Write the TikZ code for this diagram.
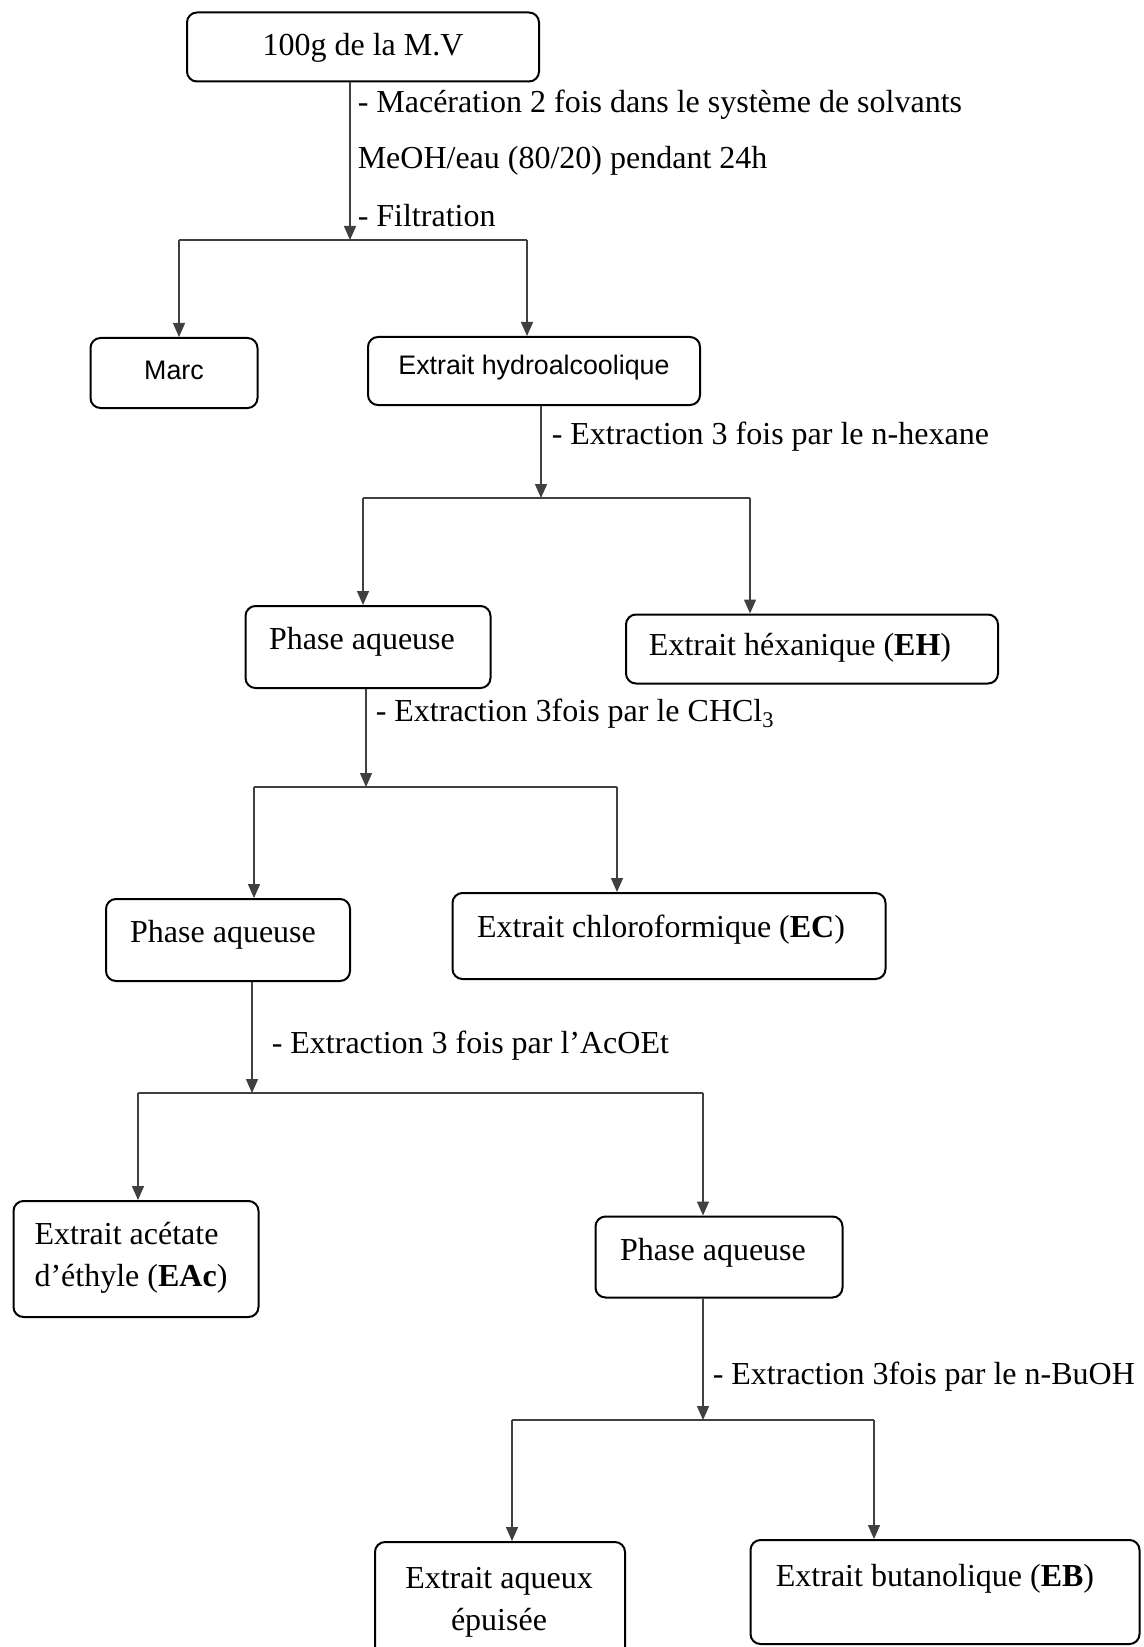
\documentclass[tikz,border=0pt]{standalone}
\usepackage{fontspec}
\setmainfont{Liberation Serif}
\newfontfamily\arialfont{Liberation Sans}
\usetikzlibrary{arrows.meta}

\tikzset{every picture/.style={line width=0.75pt}}
\tikzset{
  box/.style={draw, rounded corners=5pt, line width=1pt, inner sep=0pt},
  link/.style={draw=black!75, line width=0.7pt},
  arr/.style={link, -{Triangle[length=7pt,width=6pt]}},
  txt/.style={inner sep=0pt, font=\fontsize{16}{21}\selectfont},
  sanstxt/.style={inner sep=0pt, font=\arialfont\fontsize{13.4}{16}\selectfont},
  stepnote/.style={txt, anchor=west}
}

\begin{document}
\begin{tikzpicture}[x=0.5pt,y=0.5pt,yscale=-1,xscale=1]
\useasboundingbox (0,0) rectangle (1144,1647);

% boxes
\node[box, minimum width=176pt, minimum height=34.5pt] (mv) at (363,47) {};
\node[box, minimum width=83.5pt, minimum height=35pt] (marc) at (174,373) {};
\node[box, minimum width=166pt, minimum height=34pt] (hydro) at (534,371) {};
\node[box, minimum width=122.5pt, minimum height=41pt] (pa1) at (368,647) {};
\node[box, minimum width=186pt, minimum height=34.5pt] (eh) at (812,649) {};
\node[box, minimum width=122pt, minimum height=41pt] (pa2) at (228,940) {};
\node[box, minimum width=216.5pt, minimum height=43pt] (ec) at (669,936) {};
\node[box, minimum width=122.5pt, minimum height=58pt] (eac) at (136,1259) {};
\node[box, minimum width=123.5pt, minimum height=40.5pt] (pa3) at (719,1257) {};
\node[box, minimum width=125pt, minimum height=58pt] (eaq) at (500,1600) {};
\node[box, minimum width=194.5pt, minimum height=52pt] (eb) at (945,1592) {};

% box texts
\node[txt] (mvt) at (363,48) {100g de la M.V};
\node[sanstxt] (marct) at (174,370) {Marc};
\node[sanstxt] (hydrot) at (534,368) {Extrait hydroalcoolique};
\node[txt] (pa1t) at (362,642) {Phase aqueuse};
\node[txt] (eht) at (800,648) {Extrait héxanique (\textbf{EH})};
\node[txt] (pa2t) at (223,935) {Phase aqueuse};
\node[txt] (ect) at (661,930) {Extrait chloroformique (\textbf{EC})};
\node[txt, align=left] (eact) at (131,1258) {Extrait acétate\\d’éthyle (\textbf{EAc})};
\node[txt] (pa3t) at (713,1253) {Phase aqueuse};
\node[txt, align=center] (eaqt) at (499,1602) {Extrait aqueux\\épuisée};
\node[txt] (ebt) at (935,1579) {Extrait butanolique (\textbf{EB})};

% split points
\coordinate (s1) at (350,240);
\coordinate (s1l) at (179,240);
\coordinate (s1r) at (527,240);
\coordinate (s2) at (541,498);
\coordinate (s2l) at (363,498);
\coordinate (s2r) at (750,498);
\coordinate (s3) at (366,787);
\coordinate (s3l) at (254,787);
\coordinate (s3r) at (617,787);
\coordinate (s4) at (252,1093);
\coordinate (s4l) at (138,1093);
\coordinate (s4r) at (703,1093);
\coordinate (s5) at (703,1420);
\coordinate (s5l) at (512,1420);
\coordinate (s5r) at (874,1420);

% stems
\draw[arr] (mv.south -| s1) -- (s1);
\draw[arr] (hydro.south -| s2) -- (s2);
\draw[arr] (pa1.south -| s3) -- (s3);
\draw[arr] (pa2.south -| s4) -- (s4);
\draw[arr] (pa3.south -| s5) -- (s5);

% bars
\draw[link] (s1l) -- (s1r);
\draw[link] (s2l) -- (s2r);
\draw[link] (s3l) -- (s3r);
\draw[link] (s4l) -- (s4r);
\draw[link] (s5l) -- (s5r);

% branches
\draw[arr] (s1l) -- (s1l |- marc.north);
\draw[arr] (s1r) -- (s1r |- hydro.north);
\draw[arr] (s2l) -- (s2l |- pa1.north);
\draw[arr] (s2r) -- (s2r |- eh.north);
\draw[arr] (s3l) -- (s3l |- pa2.north);
\draw[arr] (s3r) -- (s3r |- ec.north);
\draw[arr] (s4l) -- (s4l |- eac.north);
\draw[arr] (s4r) -- (s4r |- pa3.north);
\draw[arr] (s5l) -- (s5l |- eaq.north);
\draw[arr] (s5r) -- (s5r |- eb.north);

% step notes
\node[stepnote] (mac) at (357,105) {- Macération 2 fois dans le système de solvants};
\node[stepnote] (meoh) at (357,161) {MeOH/eau (80/20) pendant 24h};
\node[stepnote] (filt) at (357,216) {- Filtration};
\node[stepnote] (hex) at (551,437) {- Extraction 3 fois par le n-hexane};
\node[stepnote] (chcl) at (375,714) {- Extraction 3fois par le CHCl\textsubscript{3}};
\node[stepnote] (acoet) at (271,1046) {- Extraction 3 fois par l’AcOEt};
\node[stepnote] (buoh) at (712,1377) {- Extraction 3fois par le n-BuOH};

\end{tikzpicture}
\end{document}
